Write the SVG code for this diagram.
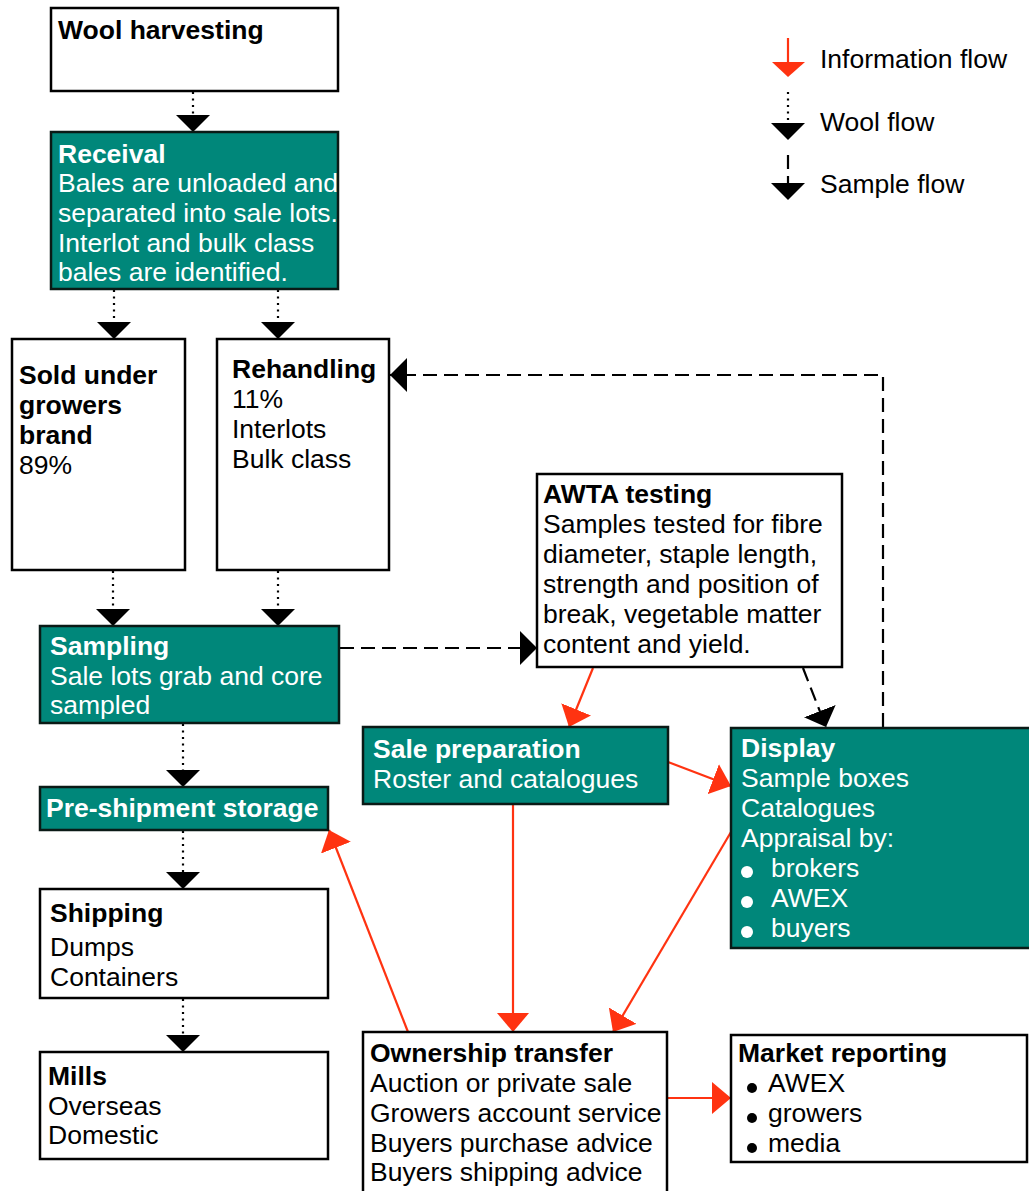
<svg xmlns="http://www.w3.org/2000/svg" width="1029" height="1191" viewBox="0 0 1029 1191">
<style>
text{font-family:"Liberation Sans",Arial,sans-serif;font-size:26.5px;fill:#000}
.b{font-weight:bold}
.w{fill:#fff}
.box{fill:#fff;stroke:#000;stroke-width:2.5}
.teal{fill:#00877a;stroke:#0a1a16;stroke-width:2.5}
.dot{fill:none;stroke:#000;stroke-width:2.2;stroke-dasharray:2 4.5}
.dash{fill:none;stroke:#000;stroke-width:2.2;stroke-dasharray:14 7}
.red{fill:none;stroke:#ff3311;stroke-width:2.2}
</style>
<defs>
<marker id="bh" markerUnits="userSpaceOnUse" viewBox="0 0 17 34" markerWidth="17" markerHeight="34" refX="17" refY="17" orient="auto"><path d="M0,0 L17,17 L0,34 z" fill="#000"/></marker>
<marker id="rh" markerUnits="userSpaceOnUse" viewBox="0 0 19 32" markerWidth="19" markerHeight="32" refX="19" refY="16" orient="auto"><path d="M0,0 L19,16 L0,32 z" fill="#ff3311"/></marker>
</defs>

<g id="legend">
<line x1="788" y1="38" x2="788" y2="63" stroke="#ff3311" stroke-width="2.2"/>
<polygon points="772,62 805,62 788,77" fill="#ff3311"/>
<text x="820" y="68">Information flow</text>
<line class="dot" x1="788" y1="92" x2="788" y2="123"/>
<polygon points="771,123 805,123 788,140" fill="#000"/>
<text x="820" y="131">Wool flow</text>
<line class="dash" x1="788" y1="155" x2="788" y2="184"/>
<polygon points="771,183 805,183 788,200" fill="#000"/>
<text x="820" y="193">Sample flow</text>
</g>

<g id="connectors">
<line class="dot" x1="193" y1="92" x2="193" y2="132" marker-end="url(#bh)"/>
<line class="dot" x1="114" y1="290" x2="114" y2="339" marker-end="url(#bh)"/>
<line class="dot" x1="278" y1="290" x2="278" y2="339" marker-end="url(#bh)"/>
<line class="dot" x1="113" y1="571" x2="113" y2="626" marker-end="url(#bh)"/>
<line class="dot" x1="278" y1="571" x2="278" y2="626" marker-end="url(#bh)"/>
<line class="dot" x1="183" y1="724" x2="183" y2="787" marker-end="url(#bh)"/>
<line class="dot" x1="183" y1="831" x2="183" y2="889" marker-end="url(#bh)"/>
<line class="dot" x1="183" y1="999" x2="183" y2="1052" marker-end="url(#bh)"/>
<line class="dash" x1="340" y1="648" x2="537" y2="648" marker-end="url(#bh)"/>
<path class="dash" d="M883,727 L883,375 L390,375" marker-end="url(#bh)"/>
<line class="dash" x1="803" y1="668" x2="826" y2="727" marker-end="url(#bh)"/>
<line class="red" x1="593" y1="668" x2="569" y2="727" marker-end="url(#rh)"/>
<line class="red" x1="668" y1="762" x2="731" y2="786" marker-end="url(#rh)"/>
<line class="red" x1="513" y1="805" x2="513" y2="1032" marker-end="url(#rh)"/>
<line class="red" x1="731" y1="832" x2="613" y2="1032" marker-end="url(#rh)"/>
<line class="red" x1="408" y1="1032" x2="329" y2="830" marker-end="url(#rh)"/>
<line class="red" x1="668" y1="1098" x2="731" y2="1098" marker-end="url(#rh)"/>
</g>

<g id="wool-harvesting">
<rect class="box" x="51" y="8" width="287" height="83"/>
<text class="b" x="58" y="39">Wool harvesting</text>
</g>

<g id="receival">
<rect class="teal" x="51" y="132" width="287" height="157"/>
<text class="b w" x="58" y="163">Receival</text>
<text class="w" x="58" y="192">Bales are unloaded and</text>
<text class="w" x="58" y="222">separated into sale lots.</text>
<text class="w" x="58" y="252">Interlot and bulk class</text>
<text class="w" x="58" y="281">bales are identified.</text>
</g>

<g id="sold-under-growers-brand">
<rect class="box" x="12" y="339" width="173" height="231"/>
<text class="b" x="19" y="384">Sold under</text>
<text class="b" x="19" y="414">growers</text>
<text class="b" x="19" y="444">brand</text>
<text x="19" y="474">89%</text>
</g>

<g id="rehandling">
<rect class="box" x="217" y="339" width="172" height="231"/>
<text class="b" x="232" y="378">Rehandling</text>
<text x="232" y="408">11%</text>
<text x="232" y="438">Interlots</text>
<text x="232" y="468">Bulk class</text>
</g>

<g id="awta-testing">
<rect class="box" x="537" y="474" width="305" height="193"/>
<text class="b" x="543" y="503">AWTA testing</text>
<text x="543" y="533">Samples tested for fibre</text>
<text x="543" y="563">diameter, staple length,</text>
<text x="543" y="593">strength and position of</text>
<text x="543" y="623">break, vegetable matter</text>
<text x="543" y="653">content and yield.</text>
</g>

<g id="sampling">
<rect class="teal" x="40" y="626" width="299" height="97"/>
<text class="b w" x="50" y="655">Sampling</text>
<text class="w" x="50" y="685">Sale lots grab and core</text>
<text class="w" x="50" y="714">sampled</text>
</g>

<g id="sale-preparation">
<rect class="teal" x="363" y="727" width="305" height="77"/>
<text class="b w" x="373" y="758">Sale preparation</text>
<text class="w" x="373" y="788">Roster and catalogues</text>
</g>

<g id="display">
<rect class="teal" x="731" y="728" width="302" height="220"/>
<text class="b w" x="741" y="757">Display</text>
<text class="w" x="741" y="787">Sample boxes</text>
<text class="w" x="741" y="817">Catalogues</text>
<text class="w" x="741" y="847">Appraisal by:</text>
<circle cx="747" cy="872" r="6" fill="#fff"/>
<text class="w" x="771" y="877">brokers</text>
<circle cx="747" cy="902" r="6" fill="#fff"/>
<text class="w" x="771" y="907">AWEX</text>
<circle cx="747" cy="932" r="6" fill="#fff"/>
<text class="w" x="771" y="937">buyers</text>
</g>

<g id="pre-shipment-storage">
<rect class="teal" x="40" y="787" width="288" height="43"/>
<text class="b w" x="46" y="817">Pre-shipment storage</text>
</g>

<g id="shipping">
<rect class="box" x="40" y="889" width="288" height="109"/>
<text class="b" x="50" y="922">Shipping</text>
<text x="50" y="956">Dumps</text>
<text x="50" y="986">Containers</text>
</g>

<g id="mills">
<rect class="box" x="40" y="1052" width="288" height="107"/>
<text class="b" x="48" y="1085">Mills</text>
<text x="48" y="1115">Overseas</text>
<text x="48" y="1144">Domestic</text>
</g>

<g id="ownership-transfer">
<rect class="box" x="363" y="1032" width="304" height="170"/>
<text class="b" x="370" y="1062">Ownership transfer</text>
<text x="370" y="1092">Auction or private sale</text>
<text x="370" y="1122">Growers account service</text>
<text x="370" y="1152">Buyers purchase advice</text>
<text x="370" y="1181">Buyers shipping advice</text>
</g>

<g id="market-reporting">
<rect class="box" x="731" y="1035" width="296" height="127"/>
<text class="b" x="738" y="1062">Market reporting</text>
<circle cx="752" cy="1088" r="5" fill="#000"/>
<text x="768" y="1092">AWEX</text>
<circle cx="752" cy="1118" r="5" fill="#000"/>
<text x="768" y="1122">growers</text>
<circle cx="752" cy="1148" r="5" fill="#000"/>
<text x="768" y="1152">media</text>
</g>
</svg>
